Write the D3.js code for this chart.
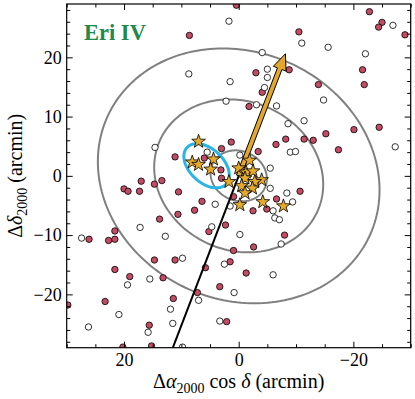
<!DOCTYPE html>
<html>
<head>
<meta charset="utf-8">
<script src="https://cdn.jsdelivr.net/npm/d3@7"></script>
<style>
  body { margin: 0; background: #fff; }
  svg text { font-family: "Liberation Serif", "DejaVu Serif", serif; }
</style>
</head>
<body>
<div id="chart"></div>
<script>
// axis ticks
const xTicks = [20, 0, -20];
const xMinor = [30, 25, 15, 10, 5, -5, -10, -15, -25, -30];
const yTicks = [20, 10, 0, -10, -20];
const yMinor = d3.range(-28, 29, 2).filter(v => v % 10 !== 0);

// spectroscopic members (stars), offsets in arcmin
const memberStars = [
  [7.0, 5.8], [8.1, 2.3], [7.0, 1.9], [4.4, 2.8], [4.9, 1.1],
  [-1.9, 2.6], [0.0, 1.3], [-1.3, 0.6], [-2.5, 0.8], [-1.1, -0.4],
  [-4.0, -0.7], [1.7, -1.0], [-2.8, -1.0], [-0.5, -1.7], [-2.4, -2.1],
  [-1.1, -2.9], [-4.2, -4.4], [-0.2, -4.9], [-7.8, -5.1]
];

// red filled circles
const redStars = [
  [0.4, 28.8], [8.6, 23.7], [-3.0, 17.4], [-4.1, 14.1], [-1.8, 11.7],
  [-22.8, 27.7], [-25.0, 25.9], [-24.4, 25.1], [-29.0, 23.8], [-10.5, 24.3],
  [-8.8, 17.9], [-21.6, 17.9], [-13.9, 15.4], [-21.9, 15.4], [-15.2, 7.1],
  [-20.1, 7.8], [-24.5, 8.2], [-8.2, 6.2], [-11.4, 6.2], [-13.0, 6.0],
  [-6.5, 5.3], [-17.4, 4.4], [-10.7, -2.6], [-6.6, -3.9], [-8.0, -10.0],
  [11.1, 3.2], [6.0, 3.0], [3.0, 4.6], [1.3, 5.7], [3.1, 1.0],
  [3.0, -0.4], [17.0, -0.9], [17.3, -2.6], [14.7, -1.4], [13.4, -0.8],
  [10.5, -2.7], [6.4, -4.3], [7.7, -5.8], [13.8, -7.3], [10.6, -6.5],
  [2.3, -8.3], [5.2, -9.4], [-2.6, -12.0], [0.9, -12.6], [14.7, -14.2],
  [11.1, -14.2], [5.8, -15.5], [-4.9, -5.6], [-2.5, -5.9], [20.0, -2.2],
  [19.3, -2.6], [26.1, -10.7], [22.7, -10.9], [21.6, -10.7], [21.6, -9.3],
  [21.6, -15.8], [19.0, -17.0], [23.3, -21.2], [29.8, -21.8], [20.2, -28.9],
  [13.2, -17.2], [1.5, -14.5], [-1.3, -16.4], [3.3, -18.7], [7.2, -19.7],
  [11.4, -20.7], [2.1, -24.6], [15.6, -25.2], [15.2, -28.7], [-3.4, 4.1],
  [0.9, -3.5]
];

// open circles
const whiteStars = [
  [1.7, 26.1], [-4.1, 20.8], [8.7, 17.2], [-5.0, 18.0], [-5.0, 16.6],
  [1.5, 15.9], [-4.5, 14.9], [2.2, 12.6], [-3.1, 12.0], [-26.9, 25.4],
  [-11.0, 22.4], [-15.6, 21.7], [-22.1, 20.6], [-14.8, 12.8], [-6.6, 11.8],
  [-11.4, 9.3], [-8.6, 8.8], [-9.0, 4.0], [-9.9, 4.1], [-27.3, 4.9],
  [-5.5, 1.3], [-5.5, -2.1], [-8.4, -2.9], [-9.4, -4.4], [-6.0, -5.9],
  [-6.3, -7.1], [-7.1, -7.4], [-7.4, -11.5], [14.6, 4.8], [5.5, 4.0],
  [4.1, -4.8], [1.5, -5.1], [4.7, -8.6], [17.2, -8.7], [12.8, -10.2],
  [-0.2, -9.9], [9.8, -13.9], [27.4, -10.5], [19.4, -18.4], [20.9, -23.4],
  [26.2, -25.5], [2.5, -14.9], [15.5, -17.4], [0.8, -19.7], [7.0, -21.0],
  [11.9, -22.5], [11.5, -24.9], [3.3, -24.5], [15.8, -26.4], [9.8, -28.9],
  [-6.0, -16.7], [-0.2, 3.5]
];

// structural ellipses: multiples of the half-light radius
const ellipseMultiples = [1, 3, 5];
const halfLight = 5.0, ellipticity = 0.16, positionAngle = 70;

// proper motion arrow tip and past orbit end
const pmTip = [-8.15, 20.6];
const orbitEnd = [12.2, -30.8];

// overdensity (cyan ellipse)
const blob = {x: 5.6, y: 1.7, a: 4.6, b: 2.9, pa: 49};

const width = 415, height = 399;
const x = d3.scaleLinear().domain([30, -30]).range([66.7, 410.7]);
const y = d3.scaleLinear().domain([29, -29]).range([4, 347.7]);

const svg = d3.select("#chart").append("svg")
  .attr("width", width)
  .attr("height", height);

svg.append("defs").append("clipPath").attr("id", "plot-clip")
  .append("rect")
  .attr("x", x(30)).attr("y", y(29))
  .attr("width", x(-30) - x(30)).attr("height", y(-29) - y(29));

const plot = svg.append("g").attr("clip-path", "url(#plot-clip)");

function ellipsePoints(cx, cy, a, b, paDeg){
  const pa = paDeg * Math.PI / 180;
  const u = [Math.sin(pa), Math.cos(pa)];
  const v = [-Math.cos(pa), Math.sin(pa)];
  return d3.range(0, 200).map(i => {
    const t = i / 200 * 2 * Math.PI;
    return [cx + a * Math.cos(t) * u[0] + b * Math.sin(t) * v[0],
            cy + a * Math.cos(t) * u[1] + b * Math.sin(t) * v[1]];
  });
}

const line = d3.line().x(d => x(d[0])).y(d => y(d[1])).curve(d3.curveLinearClosed);

plot.selectAll("path.struct")
  .data(ellipseMultiples)
  .enter()
  .append("path")
  .attr("class", "struct")
  .attr("d", m => line(ellipsePoints(0, 0, m * halfLight, m * halfLight * (1 - ellipticity), positionAngle)))
  .attr("fill", "none")
  .attr("stroke", "#808080")
  .attr("stroke-width", 2);

// circles
plot.selectAll("circle.red")
  .data(redStars)
  .enter()
  .append("circle")
  .attr("class", "red")
  .attr("cx", d => x(d[0]))
  .attr("cy", d => y(d[1]))
  .attr("r", 3.2)
  .attr("fill", "#c24c64")
  .attr("stroke", "#000")
  .attr("stroke-width", 0.8);

plot.selectAll("circle.white")
  .data(whiteStars)
  .enter()
  .append("circle")
  .attr("class", "white")
  .attr("cx", d => x(d[0]))
  .attr("cy", d => y(d[1]))
  .attr("r", 3.2)
  .attr("fill", "#fff")
  .attr("stroke", "#000")
  .attr("stroke-width", 0.8);

// orbit line (backwards)
plot.append("line")
  .attr("x1", x(0)).attr("y1", y(0))
  .attr("x2", x(orbitEnd[0])).attr("y2", y(orbitEnd[1]))
  .attr("stroke", "#000")
  .attr("stroke-width", 2);

// proper motion arrow, built in pixel space
{
  const x0 = x(0), y0 = y(0), x1 = x(pmTip[0]), y1 = y(pmTip[1]);
  const len = Math.hypot(x1 - x0, y1 - y0);
  const ux = (x1 - x0) / len, uy = (y1 - y0) / len;
  const nx = -uy, ny = ux;
  const shaft = 2.4, head = 6.8, headLen = 16;
  const bx = x1 - ux * headLen, by = y1 - uy * headLen;
  const pts = [
    [x0 + nx * shaft, y0 + ny * shaft],
    [bx + nx * shaft, by + ny * shaft],
    [bx + nx * head, by + ny * head],
    [x1, y1],
    [bx - nx * head, by - ny * head],
    [bx - nx * shaft, by - ny * shaft],
    [x0 - nx * shaft, y0 - ny * shaft]
  ];
  plot.append("polygon")
    .attr("points", pts.map(p => p.join(",")).join(" "))
    .attr("fill", "#e3a82b")
    .attr("stroke", "#000")
    .attr("stroke-width", 1)
    .attr("stroke-linejoin", "miter");
}

// cyan ellipse
plot.append("path")
  .attr("d", line(ellipsePoints(blob.x, blob.y, blob.a, blob.b, blob.pa)))
  .attr("fill", "none")
  .attr("stroke", "#29b4e6")
  .attr("stroke-width", 3);

// member stars
function starPath(R){
  const r = R * 0.4;
  const pts = d3.range(10).map(i => {
    const ang = -Math.PI / 2 + i * Math.PI / 5;
    const rad = i % 2 === 0 ? R : r;
    return [rad * Math.cos(ang), rad * Math.sin(ang)];
  });
  return "M" + pts.map(p => p.join(",")).join("L") + "Z";
}

plot.selectAll("path.member")
  .data(memberStars)
  .enter()
  .append("path")
  .attr("class", "member")
  .attr("d", starPath(7.2))
  .attr("transform", d => `translate(${x(d[0])},${y(d[1])})`)
  .attr("fill", "#e5aa2c")
  .attr("stroke", "#000")
  .attr("stroke-width", 0.8)
  .attr("stroke-linejoin", "miter");

// axes
const fmt = d => d < 0 ? "\u2212" + Math.abs(d) : d;

svg.append("g")
  .attr("transform", `translate(0,${y(-29)})`)
  .call(d3.axisBottom(x).tickValues(xTicks).tickFormat(fmt).tickSizeInner(-6).tickSizeOuter(0).tickPadding(6))
  .call(g => g.selectAll("text").attr("font-size", 18).attr("font-family", "Liberation Serif"));
svg.append("g")
  .attr("transform", `translate(0,${y(-29)})`)
  .call(d3.axisBottom(x).tickValues(xMinor).tickFormat("").tickSizeInner(-3.5).tickSizeOuter(0));
svg.append("g")
  .attr("transform", `translate(0,${y(29)})`)
  .call(d3.axisTop(x).tickValues(xTicks).tickFormat("").tickSizeInner(-6).tickSizeOuter(0));
svg.append("g")
  .attr("transform", `translate(0,${y(29)})`)
  .call(d3.axisTop(x).tickValues(xMinor).tickFormat("").tickSizeInner(-3.5).tickSizeOuter(0));

svg.append("g")
  .attr("transform", `translate(${x(30)},0)`)
  .call(d3.axisLeft(y).tickValues(yTicks).tickFormat(fmt).tickSizeInner(-6).tickSizeOuter(0).tickPadding(5))
  .call(g => g.selectAll("text").attr("font-size", 18).attr("font-family", "Liberation Serif"));
svg.append("g")
  .attr("transform", `translate(${x(30)},0)`)
  .call(d3.axisLeft(y).tickValues(yMinor).tickFormat("").tickSizeInner(-3.5).tickSizeOuter(0));
svg.append("g")
  .attr("transform", `translate(${x(-30)},0)`)
  .call(d3.axisRight(y).tickValues(yTicks).tickFormat("").tickSizeInner(-6).tickSizeOuter(0));
svg.append("g")
  .attr("transform", `translate(${x(-30)},0)`)
  .call(d3.axisRight(y).tickValues(yMinor).tickFormat("").tickSizeInner(-3.5).tickSizeOuter(0));

svg.selectAll(".domain").remove();
svg.selectAll(".tick line").attr("stroke", "#000").attr("stroke-width", 1);

svg.append("rect")
  .attr("x", x(30)).attr("y", y(29))
  .attr("width", x(-30) - x(30)).attr("height", y(-29) - y(29))
  .attr("fill", "none")
  .attr("stroke", "#000")
  .attr("stroke-width", 1.2);

// title
svg.append("text")
  .attr("x", 84).attr("y", 40)
  .attr("font-size", 22.5)
  .attr("font-weight", "bold")
  .attr("font-family", "DejaVu Serif")
  .attr("fill", "#21894a")
  .text("Eri IV");

// x label
const xl = svg.append("text")
  .attr("x", x(0)).attr("y", 388)
  .attr("text-anchor", "middle")
  .attr("font-size", 20);
xl.append("tspan").text("\u0394");
xl.append("tspan").attr("font-style", "italic").text("\u03b1");
xl.append("tspan").attr("font-size", 14).attr("dy", 5).text("2000");
xl.append("tspan").attr("dy", -5).text(" cos ");
xl.append("tspan").attr("font-style", "italic").text("\u03b4");
xl.append("tspan").text(" (arcmin)");

// y label
const yl = svg.append("text")
  .attr("transform", `translate(22,${y(0)}) rotate(-90)`)
  .attr("text-anchor", "middle")
  .attr("font-size", 20);
yl.append("tspan").text("\u0394");
yl.append("tspan").attr("font-style", "italic").text("\u03b4");
yl.append("tspan").attr("font-size", 14).attr("dy", 5).text("2000");
yl.append("tspan").attr("dy", -5).text(" (arcmin)");
</script>
</body>
</html>
